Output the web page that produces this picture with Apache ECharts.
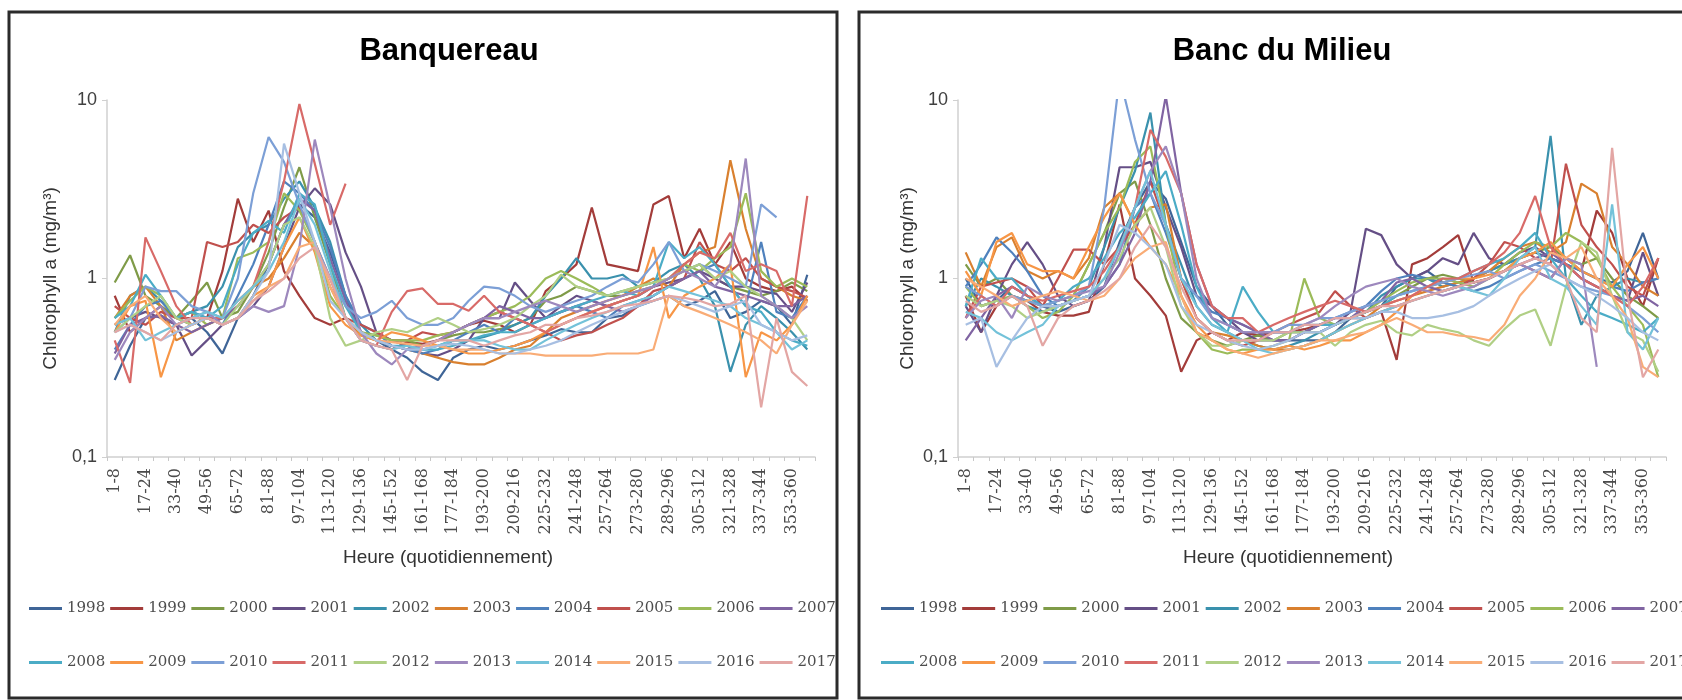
<!DOCTYPE html>
<html><head><meta charset="utf-8">
<script src="https://cdn.jsdelivr.net/npm/echarts@6/dist/echarts.min.js"></script>
<style>html,body{margin:0;padding:0;background:#fff}#c{width:1682px;height:700px}</style>
</head><body><div id="c"></div>
<script>
const categories = ['1-8','9-16','17-24','25-32','33-40','41-48','49-56','57-64','65-72','73-80','81-88','89-96','97-104','105-112','113-120','121-128','129-136','137-144','145-152','153-160','161-168','169-176','177-184','185-192','193-200','201-208','209-216','217-224','225-232','233-240','241-248','249-256','257-264','265-272','273-280','281-288','289-296','297-304','305-312','313-320','321-328','329-336','337-344','345-352','353-360','361-368'];
const years = ['1998','1999','2000','2001','2002','2003','2004','2005','2006','2007','2008','2009','2010','2011','2012','2013','2014','2015','2016','2017'];
const seriesColors = ['#3f6597','#a33c3a','#7f9b48','#654f86','#3a91ad','#d9802f','#4f81bd','#c0504d','#9bbb59','#8064a2','#4bacc6','#f79646','#7c9fd6','#d86a68','#b0cf85','#9d88bd','#73c2d9','#f9ac76','#a7bfe2','#e3a6a4'];
const yTickLabels = ['0,1','1','10'];
const panelTitles = ['Banquereau','Banc du Milieu'];
const xAxisTitle = 'Heure (quotidiennement)';
const yAxisTitle = 'Chlorophyll a (mg/m³)';

// Banquereau
const BQ_1998 = [0.27,0.42,0.6,0.62,0.55,0.6,0.5,0.38,0.6,0.8,1.2,2.0,2.6,2.2,1.4,0.8,0.5,0.45,0.4,0.36,0.3,0.27,0.36,0.4,0.42,0.4,0.42,0.45,0.48,0.52,0.5,0.5,0.6,0.62,0.7,0.75,0.8,0.7,0.75,0.85,0.6,0.65,0.75,0.7,0.55,1.05];
const BQ_1999 = [0.8,0.5,0.6,0.7,0.6,0.55,0.6,1.1,2.8,1.6,2.4,1.1,0.8,0.6,0.55,0.6,0.45,0.42,0.4,0.44,0.43,0.45,0.5,0.55,0.58,0.55,0.5,0.55,0.85,1.0,1.2,2.5,1.2,1.15,1.1,2.6,2.9,1.3,1.9,1.2,1.6,1.0,0.9,0.85,0.9,0.75];
const BQ_2000 = [0.95,1.35,0.8,0.7,0.6,0.75,0.95,0.6,0.65,0.9,1.4,2.5,4.2,2.2,1.2,0.6,0.5,0.48,0.45,0.45,0.42,0.45,0.48,0.5,0.5,0.52,0.55,0.6,0.75,0.8,0.9,0.85,0.8,0.8,0.85,0.9,1.0,1.1,1.2,1.0,0.9,0.85,0.8,0.85,0.95,0.85];
const BQ_2001 = [0.55,0.6,0.65,0.6,0.55,0.37,0.45,0.55,0.6,0.7,0.9,1.5,2.5,3.2,2.6,1.4,0.9,0.5,0.45,0.42,0.38,0.37,0.4,0.45,0.6,0.6,0.95,0.75,0.6,0.7,0.8,0.75,0.7,0.75,0.8,0.9,0.95,1.0,1.1,1.0,0.9,0.9,0.85,0.82,0.65,0.95];
const BQ_2002 = [0.5,0.8,0.9,0.75,0.6,0.65,0.7,0.9,1.5,1.8,2.0,2.8,3.5,2.5,1.6,0.8,0.55,0.45,0.42,0.4,0.4,0.42,0.45,0.45,0.47,0.5,0.55,0.6,0.8,1.0,1.3,1.0,1.0,1.05,0.9,0.95,1.1,1.2,1.0,0.7,0.3,0.55,0.7,0.6,0.5,0.4];
const BQ_2003 = [0.6,0.8,0.9,0.7,0.45,0.5,0.55,0.6,0.7,0.9,1.0,1.3,1.8,1.5,0.9,0.6,0.48,0.45,0.42,0.4,0.38,0.36,0.34,0.33,0.33,0.36,0.4,0.42,0.5,0.6,0.65,0.7,0.75,0.8,0.9,1.0,0.9,1.2,1.4,1.5,4.6,1.9,1.0,0.9,0.8,0.75];
const BQ_2004 = [0.4,0.55,0.7,0.75,0.6,0.65,0.6,0.55,0.8,1.2,2.0,3.5,3.0,2.4,1.5,0.8,0.55,0.5,0.42,0.4,0.38,0.4,0.45,0.5,0.55,0.5,0.6,0.55,0.6,0.65,0.7,0.65,0.6,0.7,0.75,0.8,0.9,1.0,1.1,1.2,0.9,0.7,1.6,0.65,0.6,0.8];
const BQ_2005 = [0.7,0.6,0.55,0.65,0.6,0.6,1.6,1.5,1.6,2.0,1.8,2.2,2.5,1.6,1.0,0.6,0.55,0.5,0.45,0.45,0.5,0.48,0.5,0.55,0.6,0.65,0.6,0.55,0.5,0.45,0.48,0.5,0.55,0.6,0.7,0.85,0.9,1.0,1.6,1.2,1.1,1.3,1.0,0.9,0.85,0.78];
const BQ_2006 = [0.6,0.75,0.9,0.8,0.6,0.65,0.55,0.6,1.3,1.4,1.6,3.0,2.4,1.6,0.8,0.6,0.5,0.48,0.45,0.45,0.45,0.48,0.5,0.55,0.6,0.65,0.7,0.8,1.0,1.1,1.0,0.9,0.8,0.85,0.9,0.95,1.0,1.2,1.1,1.3,1.5,3.0,1.1,0.9,1.0,0.9];
const BQ_2007 = [0.38,0.55,0.6,0.62,0.55,0.5,0.55,0.6,0.7,0.9,1.2,2.0,2.8,2.4,1.3,0.75,0.5,0.45,0.42,0.4,0.42,0.45,0.5,0.55,0.6,0.7,0.65,0.6,0.6,0.65,0.7,0.75,0.7,0.65,0.7,0.8,0.9,1.0,1.1,0.9,0.85,0.8,0.75,0.7,0.7,0.8];
const BQ_2008 = [0.6,0.7,1.05,0.8,0.6,0.65,0.6,0.7,1.2,1.8,2.1,1.8,3.0,2.6,1.2,0.7,0.5,0.45,0.42,0.42,0.4,0.4,0.42,0.45,0.48,0.5,0.5,0.55,0.6,0.65,0.7,0.75,0.8,0.85,0.8,0.9,1.6,1.3,1.5,1.2,0.9,0.7,0.65,0.5,0.45,0.42];
const BQ_2009 = [0.5,0.7,0.75,0.28,0.5,0.55,0.6,0.55,0.6,0.8,0.9,1.5,2.2,1.4,0.7,0.55,0.48,0.45,0.5,0.48,0.45,0.42,0.4,0.38,0.38,0.4,0.42,0.45,0.5,0.55,0.6,0.65,0.7,0.75,0.8,1.5,0.6,0.8,0.9,1.0,1.2,0.28,0.5,0.45,0.55,0.8];
const BQ_2010 = [0.5,0.6,0.9,0.85,0.85,0.7,0.65,0.6,1.0,3.0,6.2,4.5,2.6,1.6,1.0,0.7,0.6,0.65,0.75,0.6,0.55,0.55,0.6,0.75,0.9,0.88,0.8,0.7,0.65,0.7,0.75,0.8,0.9,1.0,0.95,1.2,1.6,1.1,1.2,1.1,1.0,0.9,2.6,2.2,null,null];
const BQ_2011 = [0.45,0.26,1.7,1.1,0.7,0.55,0.6,0.6,0.75,0.9,1.6,3.5,9.5,4.4,2.0,3.4,null,0.42,0.65,0.85,0.88,0.72,0.72,0.66,0.8,0.65,0.6,0.55,0.5,0.55,0.6,0.65,0.7,0.75,0.8,0.9,1.0,1.2,1.4,1.3,1.8,1.1,1.2,1.1,0.7,2.9];
const BQ_2012 = [0.5,0.6,0.7,0.8,0.6,0.55,0.6,0.55,0.7,0.9,1.2,2.0,2.2,1.5,0.6,0.42,0.45,0.5,0.52,0.5,0.55,0.6,0.55,0.5,0.52,0.55,0.6,0.7,0.8,1.05,0.9,0.85,0.8,0.85,0.9,0.95,1.0,1.1,1.2,1.0,1.1,0.9,0.8,0.7,0.6,0.45];
const BQ_2013 = [0.35,0.5,0.6,0.7,0.55,0.6,0.65,0.55,0.6,0.7,0.65,0.7,1.5,6.0,2.5,1.0,0.5,0.38,0.33,0.4,0.42,0.45,0.5,0.55,0.6,0.6,0.65,0.7,0.75,0.7,0.65,0.7,0.75,0.8,0.85,0.9,1.0,1.1,1.0,0.9,1.2,4.7,0.8,0.7,0.6,0.7];
const BQ_2014 = [0.55,0.6,0.45,0.5,0.55,0.6,0.65,0.6,0.75,0.9,1.1,1.6,2.8,2.0,1.1,0.6,0.45,0.42,0.4,0.42,0.4,0.42,0.45,0.45,0.45,0.42,0.4,0.4,0.45,0.5,0.55,0.6,0.65,0.7,0.75,0.8,0.9,0.85,0.8,0.75,0.7,0.6,0.55,0.5,0.4,0.45];
const BQ_2015 = [0.55,0.7,0.8,0.6,0.5,0.55,0.6,0.55,0.6,0.75,0.9,1.0,1.5,1.6,0.9,0.6,0.5,0.45,0.44,0.43,0.42,0.42,0.4,0.4,0.4,0.38,0.38,0.38,0.37,0.37,0.37,0.37,0.38,0.38,0.38,0.4,0.8,0.7,0.65,0.6,0.55,0.5,0.45,0.38,0.55,0.75];
const BQ_2016 = [0.5,0.55,0.5,0.45,0.5,0.55,0.6,0.55,0.6,0.8,1.1,5.7,3.0,1.6,0.75,0.6,0.5,0.45,0.42,0.4,0.4,0.42,0.43,0.42,0.4,0.38,0.38,0.4,0.42,0.45,0.5,0.55,0.6,0.65,0.7,0.75,0.8,0.75,0.7,0.65,0.7,0.75,0.55,0.5,0.45,0.48];
const BQ_2017 = [0.5,0.55,0.5,0.45,0.55,0.6,0.6,0.55,0.6,0.75,0.85,1.0,1.3,1.5,1.0,0.6,0.45,0.42,0.4,0.27,0.42,0.45,0.45,0.45,0.42,0.45,0.48,0.5,0.55,0.55,0.6,0.62,0.65,0.7,0.72,0.75,0.8,0.78,0.75,0.7,0.72,0.8,0.19,0.6,0.3,0.25];

// Banc du Milieu
const ML_1998 = [1.0,0.7,0.75,0.9,0.8,0.7,0.65,0.7,0.75,0.9,1.6,2.5,3.5,2.8,1.6,0.9,0.7,0.55,0.5,0.48,0.45,0.45,0.45,0.45,0.5,0.6,0.65,0.7,0.9,1.0,1.1,0.95,0.9,1.0,1.1,1.2,1.3,1.4,1.3,1.2,1.1,1.0,0.95,1.1,1.8,1.0];
const ML_1999 = [0.8,0.5,0.7,0.8,0.75,0.65,0.62,0.62,0.65,1.2,2.6,1.0,0.8,0.62,0.3,0.45,0.5,0.45,0.5,0.48,0.5,0.5,0.52,0.55,0.55,0.6,0.6,0.65,0.35,1.2,1.3,1.5,1.75,0.95,1.0,1.1,1.2,1.1,1.0,1.3,1.1,2.4,1.8,1.0,0.7,1.3];
const ML_2000 = [1.2,0.9,1.0,0.8,0.75,0.7,0.75,0.8,1.2,1.8,3.0,3.5,2.0,1.0,0.6,0.5,0.45,0.42,0.45,0.48,0.45,0.5,0.5,0.55,0.55,0.6,0.65,0.7,0.8,0.9,1.0,1.05,1.0,0.95,1.0,1.1,1.3,1.4,1.5,1.3,1.2,1.3,1.0,0.8,0.7,0.6];
const ML_2001 = [0.7,0.5,0.8,1.2,1.6,1.2,0.8,0.7,0.75,1.5,4.2,4.2,4.5,2.5,1.5,0.8,0.7,0.6,0.5,0.45,0.45,0.45,0.5,0.5,0.55,0.65,1.9,1.75,1.2,1.0,1.1,1.3,1.2,1.8,1.3,1.2,1.4,1.5,1.3,1.2,1.0,0.9,0.8,0.75,1.4,0.8];
const ML_2002 = [0.7,1.0,0.9,0.8,0.7,0.65,0.7,0.75,0.9,1.5,2.5,4.0,8.5,2.0,1.2,0.7,0.55,0.5,0.45,0.42,0.4,0.42,0.45,0.5,0.55,0.6,0.65,0.8,0.9,1.0,1.0,0.9,0.95,1.0,1.1,1.2,1.3,1.5,6.3,1.0,0.55,0.8,0.9,1.0,0.95,1.0];
const ML_2003 = [1.4,0.9,1.5,1.7,1.1,1.0,1.1,1.0,1.3,2.5,3.0,2.0,2.5,2.6,1.0,0.6,0.5,0.48,0.45,0.42,0.4,0.4,0.42,0.45,0.5,0.55,0.6,0.7,0.75,0.8,0.85,0.9,0.95,1.0,1.1,1.3,1.5,1.6,1.4,1.6,3.4,3.0,1.5,1.2,0.9,0.8];
const ML_2004 = [0.9,1.2,1.7,1.4,1.1,0.8,0.7,0.75,0.8,0.9,1.2,2.5,3.0,1.8,1.0,0.8,0.65,0.6,0.55,0.5,0.5,0.5,0.5,0.55,0.6,0.65,0.7,0.85,1.0,1.05,1.0,0.95,0.9,0.85,0.9,1.0,1.1,1.2,1.3,1.2,1.1,1.0,0.9,0.85,0.95,1.0];
const ML_2005 = [0.6,0.9,0.95,1.0,0.9,0.7,1.0,1.45,1.45,1.2,1.5,2.0,3.5,2.0,1.0,0.6,0.5,0.45,0.42,0.45,0.5,0.55,0.6,0.65,0.85,0.7,0.6,0.65,0.7,0.75,0.8,0.85,0.9,1.0,1.2,1.6,1.5,1.3,1.2,4.4,2.0,1.5,1.2,0.9,0.8,1.3];
const ML_2006 = [0.9,0.7,0.75,0.8,0.7,0.6,0.65,0.8,1.2,1.8,2.5,4.5,5.5,2.0,0.8,0.5,0.4,0.38,0.4,0.4,0.42,0.45,1.0,0.6,0.55,0.6,0.65,0.75,0.85,0.95,1.0,1.0,0.95,0.9,1.0,1.2,1.4,1.6,1.5,1.8,1.6,1.3,0.9,0.7,0.55,0.28];
const ML_2007 = [0.45,0.6,0.8,0.9,0.8,0.7,0.7,0.75,0.8,0.9,1.2,1.8,3.5,10.5,3.0,1.2,0.7,0.6,0.55,0.5,0.45,0.45,0.5,0.55,0.6,0.6,0.7,0.75,0.95,1.0,0.9,0.85,0.9,0.95,1.0,1.1,1.2,1.3,1.4,1.2,1.0,0.9,0.8,0.75,0.8,0.7];
const ML_2008 = [0.7,1.3,1.0,1.0,0.8,0.7,0.75,0.9,1.0,1.3,1.8,2.2,3.0,4.0,2.0,0.9,0.6,0.5,0.9,0.65,0.5,0.5,0.55,0.55,0.55,0.6,0.65,0.7,0.8,0.85,0.9,0.95,1.0,1.1,1.2,1.3,1.5,1.8,1.3,1.0,0.8,0.65,0.6,0.55,0.5,0.6];
const ML_2009 = [1.1,0.8,1.6,1.8,1.2,1.1,1.1,1.0,1.5,2.2,3.0,2.0,1.5,1.2,0.8,0.55,0.45,0.4,0.38,0.4,0.4,0.42,0.4,0.42,0.45,0.45,0.5,0.55,0.65,0.8,0.9,0.95,1.0,1.0,1.05,1.1,1.3,1.4,1.6,1.3,1.1,1.0,0.9,1.2,1.5,1.0];
const ML_2010 = [0.9,0.8,0.7,0.8,0.75,0.7,0.75,0.8,0.9,2.5,13.5,6.0,3.0,2.0,1.0,0.8,0.6,0.55,0.5,0.5,0.5,0.55,0.55,0.6,0.6,0.65,0.7,0.75,0.8,0.85,0.9,0.95,1.0,1.05,1.1,1.0,1.1,1.2,1.1,1.0,0.9,0.85,0.8,0.7,0.6,0.5];
const ML_2011 = [0.6,0.8,0.7,0.9,0.8,0.75,0.8,0.85,0.9,1.1,1.5,2.5,6.8,4.8,3.0,1.2,0.7,0.6,0.6,0.5,0.55,0.6,0.65,0.7,0.75,0.7,0.65,0.7,0.75,0.8,0.9,1.0,1.0,1.1,1.2,1.4,1.8,2.9,1.5,1.2,1.0,0.9,0.8,0.7,0.9,1.3];
const ML_2012 = [0.8,0.7,0.75,0.7,0.6,0.65,0.7,0.75,0.8,1.0,1.3,2.0,2.5,1.5,0.7,0.5,0.42,0.42,0.45,0.45,0.45,0.5,0.5,0.5,0.42,0.5,0.55,0.58,0.5,0.48,0.55,0.52,0.5,0.45,0.42,0.52,0.62,0.67,0.42,0.9,1.6,1.4,0.8,0.5,0.45,0.3];
const ML_2013 = [0.6,0.75,0.8,0.6,0.9,0.8,0.75,0.8,0.85,0.9,1.4,2.5,4.0,5.5,3.0,1.0,0.6,0.55,0.5,0.5,0.5,0.5,0.55,0.6,0.7,0.8,0.9,0.95,1.0,0.9,0.85,0.8,0.85,0.9,1.0,1.1,1.2,1.1,1.0,1.3,1.2,0.32,null,null,null,null];
const ML_2014 = [0.65,0.6,0.5,0.45,0.5,0.55,0.7,0.75,0.8,1.0,1.5,2.5,4.0,2.0,1.0,0.7,0.55,0.5,0.45,0.4,0.38,0.4,0.42,0.45,0.5,0.55,0.6,0.65,0.7,0.75,0.8,0.85,0.9,0.85,0.8,1.0,1.3,1.5,1.0,0.9,0.7,0.55,2.6,0.5,0.4,0.6];
const ML_2015 = [1.0,0.9,0.8,0.7,0.75,0.8,0.85,0.8,0.75,0.8,1.0,1.3,1.5,1.6,0.8,0.5,0.45,0.4,0.38,0.36,0.38,0.4,0.42,0.45,0.45,0.48,0.5,0.55,0.6,0.55,0.5,0.5,0.48,0.47,0.45,0.55,0.8,1.0,1.4,1.3,1.5,1.0,0.8,0.6,0.32,0.28];
const ML_2016 = [0.55,0.6,0.32,0.45,0.6,0.7,0.7,0.75,0.8,1.2,2.0,1.8,1.5,1.2,0.7,0.55,0.5,0.45,0.42,0.4,0.42,0.45,0.5,0.5,0.55,0.6,0.6,0.65,0.65,0.6,0.6,0.62,0.65,0.7,0.8,0.9,1.0,1.1,1.2,1.0,0.9,0.8,0.7,0.6,0.5,0.45];
const ML_2017 = [0.75,0.65,0.7,0.8,0.7,0.42,0.6,0.7,0.75,0.85,1.0,1.5,2.0,1.5,0.9,0.6,0.5,0.45,0.45,0.45,0.5,0.5,0.55,0.55,0.6,0.6,0.65,0.7,0.7,0.75,0.8,0.85,0.9,0.95,1.0,1.1,1.2,1.3,1.2,1.0,0.6,0.5,5.4,0.8,0.28,0.4];

const bqValues = [BQ_1998,BQ_1999,BQ_2000,BQ_2001,BQ_2002,BQ_2003,BQ_2004,BQ_2005,BQ_2006,BQ_2007,BQ_2008,BQ_2009,BQ_2010,BQ_2011,BQ_2012,BQ_2013,BQ_2014,BQ_2015,BQ_2016,BQ_2017];
const mlValues = [ML_1998,ML_1999,ML_2000,ML_2001,ML_2002,ML_2003,ML_2004,ML_2005,ML_2006,ML_2007,ML_2008,ML_2009,ML_2010,ML_2011,ML_2012,ML_2013,ML_2014,ML_2015,ML_2016,ML_2017];

const chart = echarts.init(document.getElementById('c'), null, {renderer: 'canvas'});

const panels = [
  {gridLeft: 107, titleX: 444, xNameX: 443, nameGap: 47, frameX: 9, frameW: 828, legendLeft: 24},
  {gridLeft: 958, titleX: 1277, xNameX: 1283, nameGap: 41, frameX: 859, frameW: 840, legendLeft: 876}
];

function xAxisFor(i) {
  return {
    type: 'category', gridIndex: i, data: categories, boundaryGap: true,
    axisLine: {lineStyle: {color: '#d0d0d0', width: 1.5}},
    axisTick: {show: true, interval: 0, length: 4, lineStyle: {color: '#c8c8c8'}},
    axisLabel: {interval: 1, rotate: 90, margin: 11, fontFamily: 'DejaVu Serif', fontSize: 16, color: '#4a4a4a'},
    splitLine: {show: false}
  };
}
function yAxisFor(i) {
  return {
    type: 'log', logBase: 10, gridIndex: i, min: 0.1, max: 10, interval: 1,
    name: yAxisTitle, nameLocation: 'middle', nameGap: panels[i].nameGap, nameRotate: 90,
    nameTextStyle: {fontFamily: 'Liberation Sans', fontSize: 19, color: '#333'},
    axisLine: {show: true, lineStyle: {color: '#d0d0d0', width: 1.5}},
    axisTick: {show: true, length: 5, lineStyle: {color: '#d0d0d0'}},
    axisLabel: {margin: 10, fontFamily: 'Liberation Sans', fontSize: 18, color: '#404040',
      formatter: v => yTickLabels[Math.round(Math.log10(v)) + 1]},
    splitLine: {show: false}, minorTick: {show: false}
  };
}
function legendRow(i, top, names) {
  return {
    left: panels[i].legendLeft, top: top, width: 1200, orient: 'horizontal',
    icon: 'rect', itemWidth: 33, itemHeight: 3, itemGap: 5, selectedMode: false,
    data: names,
    textStyle: {fontFamily: 'DejaVu Serif', fontSize: 15, color: '#4d4d4d'}
  };
}

const series = [];
[bqValues, mlValues].forEach((vals, p) => {
  vals.forEach((arr, k) => {
    series.push({
      name: years[k], type: 'line', xAxisIndex: p, yAxisIndex: p, data: arr,
      symbol: 'none', showSymbol: false, clip: true, connectNulls: false,
      lineStyle: {width: 2.2, color: seriesColors[k]}, itemStyle: {color: seriesColors[k]},
      emphasis: {disabled: true}
    });
  });
});

const option = {
  animation: false,
  backgroundColor: '#fff',
  color: seriesColors,
  title: [
    {text: panelTitles[0], left: panels[0].titleX, top: 31, textAlign: 'center', textStyle: {fontFamily: 'Liberation Sans', fontSize: 31, fontWeight: 'bold', color: '#000'}},
    {text: panelTitles[1], left: panels[1].titleX, top: 31, textAlign: 'center', textStyle: {fontFamily: 'Liberation Sans', fontSize: 31, fontWeight: 'bold', color: '#000'}},
    {text: xAxisTitle, left: panels[0].xNameX, top: 543, textAlign: 'center', textStyle: {fontFamily: 'Liberation Sans', fontSize: 19, fontWeight: 'normal', color: '#333'}},
    {text: xAxisTitle, left: panels[1].xNameX, top: 543, textAlign: 'center', textStyle: {fontFamily: 'Liberation Sans', fontSize: 19, fontWeight: 'normal', color: '#333'}}
  ],
  grid: [
    {left: panels[0].gridLeft, top: 100, width: 708, height: 357, containLabel: false},
    {left: panels[1].gridLeft, top: 100, width: 708, height: 357, containLabel: false}
  ],
  xAxis: [xAxisFor(0), xAxisFor(1)],
  yAxis: [yAxisFor(0), yAxisFor(1)],
  legend: [
    legendRow(0, 596, years.slice(0, 10)),
    legendRow(0, 650, years.slice(10)),
    legendRow(1, 596, years.slice(0, 10)),
    legendRow(1, 650, years.slice(10))
  ],
  graphic: [
    {type: 'rect', shape: {x: panels[0].frameX, y: 12, width: panels[0].frameW, height: 686}, style: {fill: 'none', stroke: '#2b2b2b', lineWidth: 3}, z: 100},
    {type: 'rect', shape: {x: panels[1].frameX, y: 12, width: panels[1].frameW, height: 686}, style: {fill: 'none', stroke: '#2b2b2b', lineWidth: 3}, z: 100}
  ],
  series: series
};
chart.setOption(option);
</script>
</body></html>
